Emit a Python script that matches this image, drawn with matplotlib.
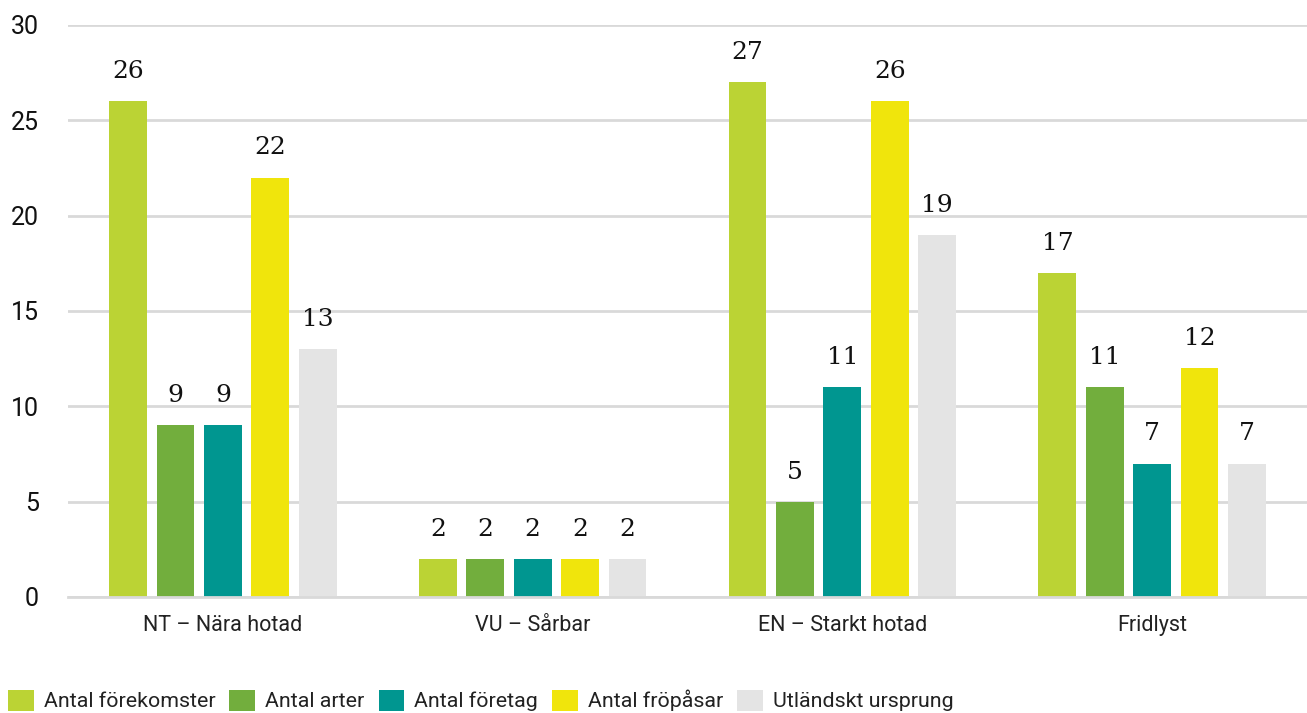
import matplotlib
matplotlib.use("Agg")
import matplotlib.pyplot as plt
import numpy as np

categories = ["NT – Nära hotad", "VU – Sårbar", "EN – Starkt hotad", "Fridlyst"]
series_names = ["Antal förekomster", "Antal arter", "Antal företag", "Antal fröpåsar", "Utländskt ursprung"]
forekomster = [26, 2, 27, 17]
arter = [9, 2, 5, 11]
foretag = [9, 2, 11, 7]
fropasar = [22, 2, 26, 12]
utlandskt = [13, 2, 19, 7]
yticks = [0, 5, 10, 15, 20, 25, 30]

series = [forekomster, arter, foretag, fropasar, utlandskt]
colors = ["#BBD334", "#72AE3D", "#009690", "#F0E50C", "#E4E4E4"]

plt.rcParams['font.family'] = ['Roboto', 'DejaVu Sans']

fig = plt.figure(figsize=(13.07, 7.13), dpi=100)
ax = fig.add_axes([68/1307, 116/713, 1 - 68/1307, (597-25)/713])

x = np.arange(len(categories))
pitch = 0.153
width = 0.122
handles = []
for j, (vals, c, name) in enumerate(zip(series, colors, series_names)):
    b = ax.bar(x + (j - 2) * pitch, vals, width, color=c, label=name, zorder=3)
    handles.append(b)
    for xi, v in zip(x + (j - 2) * pitch, vals):
        ax.annotate(str(v), (xi, v), xytext=(0, 13), textcoords="offset points",
                    ha="center", va="bottom", fontsize=18,
                    family=["DejaVu Serif"], color="#111111")

ax.set_xlim(-0.5, 3.5)
ax.set_ylim(0, 30)
ax.set_yticks(yticks)
ax.set_xticks(x)
ax.set_xticklabels(categories, fontsize=15.5, color="#222222")
ax.tick_params(axis="y", length=0, pad=21, labelsize=18, labelcolor="#111111")
ax.tick_params(axis="x", length=0, pad=13)
ax.grid(axis="y", color="#d9d9d9", linewidth=2, zorder=0)
for s in ["top", "right", "left"]:
    ax.spines[s].set_visible(False)
ax.spines["bottom"].set_color("#d9d9d9")
ax.spines["bottom"].set_linewidth(2)
ax.spines["bottom"].set_zorder(4)

fig.legend(handles=handles, labels=series_names, loc="center left",
           bbox_to_anchor=(8/1307, 12.5/713), ncol=5, frameon=False,
           fontsize=15.4, handlelength=1.21, handleheight=1.17,
           handletextpad=0.47, columnspacing=0.65, borderaxespad=0, borderpad=0.0,
           labelcolor="#222222")

fig.savefig("out.png", dpi=100)
